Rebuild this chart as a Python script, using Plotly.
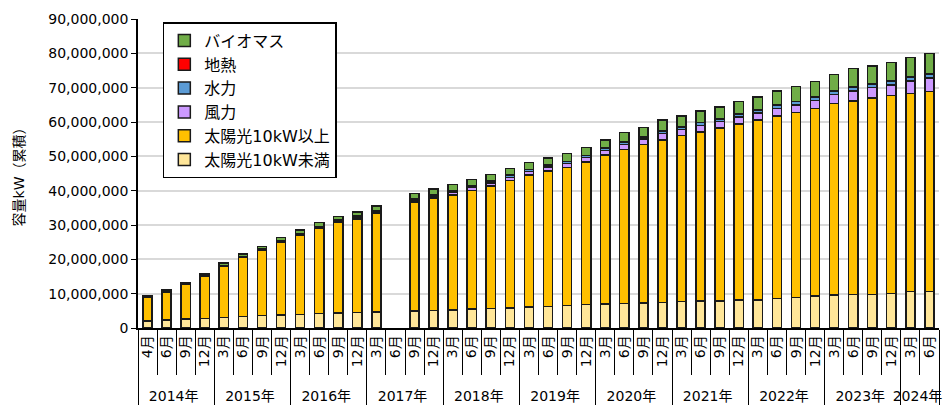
import plotly.graph_objects as go

ZW = "\u200b"
PAD = "\u2002"
years = ["2014年"]*4 + ["2015年"]*4 + ["2016年"]*4 + ["2017年"]*4 + ["2018年"]*4 + \
        ["2019年"]*4 + ["2020年"]*4 + ["2021年"]*4 + ["2022年"]*4 + ["2023年"]*4 + ["2024年"]*2
# 2014 labels carry an invisible zero-width space so that the category order is kept
months = ["4月", "6月" + ZW, "9月" + ZW, "12月" + ZW] + ["3月", "6月", "9月", "12月"]*9 + ["3月", "6月"]

# values in million kW (cumulative); None = no data
solar_small = [2.1, 2.3, 2.6, 2.8, 3.1, 3.3, 3.6, 3.8, 4.0, 4.2, 4.4, 4.5, 4.7, None, 5.0, 5.1,
               5.3, 5.5, 5.7, 5.8, 6.1, 6.3, 6.6, 6.8, 7.0, 7.1, 7.3, 7.5, 7.7, 7.8, 7.9, 8.1,
               8.2, 8.6, 8.9, 9.3, 9.6, 9.7, 9.8, 10.1, 10.6, 10.7]
solar_large = [6.9, 8.2, 10.0, 12.4, 14.8, 17.2, 19.1, 21.2, 23.0, 24.8, 26.3, 27.3, 28.6, None, 31.7, 32.7,
               33.4, 34.6, 35.7, 37.2, 38.5, 39.5, 40.1, 41.6, 43.4, 44.9, 46.2, 47.3, 48.3, 49.3, 50.3, 51.3,
               52.4, 53.2, 53.8, 54.7, 55.8, 56.4, 57.2, 57.6, 57.7, 58.2]
wind = [0.1, 0.1, 0.1, 0.15, 0.2, 0.2, 0.2, 0.25, 0.3, 0.35, 0.45, 0.5, 0.55, None, 0.6, 0.65,
        0.75, 0.8, 0.85, 0.9, 1.0, 1.05, 1.15, 1.2, 1.3, 1.5, 1.5, 1.8, 1.8, 1.9, 1.9, 2.0,
        2.0, 2.2, 2.3, 2.3, 2.6, 3.0, 3.0, 3.1, 3.6, 3.9]
hydro = [0.1, 0.1, 0.1, 0.1, 0.15, 0.15, 0.2, 0.2, 0.25, 0.25, 0.3, 0.35, 0.35, None, 0.4, 0.45,
         0.5, 0.5, 0.5, 0.55, 0.55, 0.6, 0.6, 0.65, 0.65, 0.7, 0.7, 0.75, 0.75, 0.8, 0.8, 0.85,
         0.85, 0.9, 0.95, 0.95, 1.0, 1.05, 1.05, 1.1, 1.15, 1.2]
geo = [0.0, 0.0, 0.0, 0.0, 0.01, 0.01, 0.01, 0.01, 0.01, 0.02, 0.02, 0.02, 0.02, None, 0.03, 0.03,
       0.03, 0.04, 0.04, 0.05, 0.05, 0.05, 0.05, 0.05, 0.05, 0.06, 0.06, 0.07, 0.07, 0.07, 0.08, 0.08,
       0.08, 0.08, 0.09, 0.09, 0.09, 0.1, 0.1, 0.1, 0.1, 0.1]
biomass = [0.3, 0.4, 0.4, 0.45, 0.64, 0.64, 0.7, 0.9, 0.95, 1.05, 0.95, 1.1, 1.25, None, 1.4, 1.55,
           1.8, 1.85, 1.9, 1.9, 2.0, 2.0, 2.3, 2.3, 2.4, 2.7, 2.7, 3.1, 3.1, 3.4, 3.4, 3.6,
           3.7, 4.0, 4.3, 4.4, 4.7, 5.3, 5.2, 5.4, 5.7, 5.8]

series = [
    ("太陽光10kW未満", solar_small, "#FFE699"),
    ("太陽光10kW以上", solar_large, "#FFC000"),
    ("風力", wind, "#CC99FF"),
    ("水力", hydro, "#5B9BD5"),
    ("地熱", geo, "#FF0000"),
    ("バイオマス", biomass, "#70AD47"),
]

FONT = "DejaVu Sans, Noto Sans CJK JP, sans-serif"
month_labels = [PAD + m for m in months]

fig = go.Figure()
for name, vals, color in series:
    fig.add_trace(go.Bar(
        x=[years, month_labels],
        y=[None if v is None else v * 1e6 for v in vals],
        name=name,
        marker=dict(color=color, line=dict(color="#1a1a1a", width=1.5)),
    ))

fig.update_layout(
    width=949, height=410,
    margin=dict(l=138, r=7, t=19, b=82),
    barmode="stack",
    bargap=0.52,
    plot_bgcolor="white",
    paper_bgcolor="white",
    font=dict(family=FONT, size=14, color="#000000"),
    showlegend=True,
    legend=dict(
        traceorder="reversed",
        x=0.031, y=0.99, xanchor="left", yanchor="top",
        bordercolor="#000000", borderwidth=1.5,
        bgcolor="white",
        font=dict(family=FONT, size=16),
        itemwidth=30,
        tracegroupgap=0,
    ),
    xaxis=dict(
        type="multicategory",
        showline=True, linecolor="#000000", linewidth=1.5,
        ticks="outside", tickson="boundaries", ticklen=45, tickcolor="#000000", tickwidth=1.2,
        tickangle=-90,
        showdividers=True, dividercolor="#000000", dividerwidth=1.2,
        tickfont=dict(family=FONT, size=14),
        showgrid=False,
    ),
    yaxis=dict(
        range=[0, 90e6],
        tickvals=[i * 10e6 for i in range(10)],
        tickformat=",d",
        showline=True, linecolor="#000000", linewidth=1.5,
        ticks="outside", ticklen=5, tickcolor="#000000",
        showgrid=True, gridcolor="#d9d9d9", gridwidth=1.5,
        tickfont=dict(family=FONT, size=14),
        title=dict(text="容量kW（累積）", font=dict(family=FONT, size=14), standoff=20),
        zeroline=False,
    ),
)

fig.write_html("out.html")
